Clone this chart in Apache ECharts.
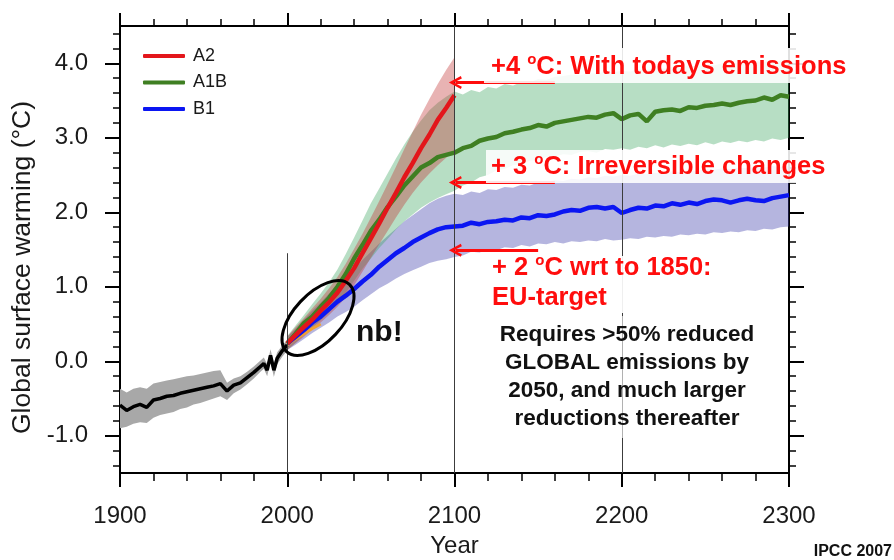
<!DOCTYPE html>
<html>
<head>
<meta charset="utf-8">
<script src="https://cdn.jsdelivr.net/npm/echarts@6/dist/echarts.min.js"></script>
<style>
  html, body { margin: 0; padding: 0; background: #fff; }
  #main { width: 894px; height: 560px; }
</style>
</head>
<body>
<div id="main"></div>
<script>
// historical run 1900-2000
const histYears = [1900, 1904, 1908, 1912, 1916, 1920, 1924, 1928, 1932, 1936, 1940, 1944, 1948, 1952, 1956, 1960, 1964, 1968, 1972, 1976, 1980, 1984, 1986, 1988, 1990, 1992, 1994, 1997, 2000]
const histMean = [-0.59, -0.66, -0.61, -0.58, -0.62, -0.52, -0.50, -0.47, -0.46, -0.43, -0.41, -0.39, -0.37, -0.35, -0.33, -0.30, -0.40, -0.32, -0.29, -0.22, -0.15, -0.07, -0.03, -0.12, 0.08, -0.12, 0.04, 0.14, 0.22]
const histLow = [-0.90, -0.88, -0.84, -0.82, -0.83, -0.76, -0.72, -0.70, -0.68, -0.64, -0.62, -0.58, -0.56, -0.53, -0.50, -0.47, -0.52, -0.43, -0.38, -0.31, -0.23, -0.14, -0.10, -0.20, 0.00, -0.21, -0.04, 0.06, 0.14]
const histHigh = [-0.37, -0.42, -0.37, -0.35, -0.37, -0.30, -0.28, -0.26, -0.24, -0.22, -0.20, -0.19, -0.17, -0.15, -0.13, -0.12, -0.29, -0.23, -0.20, -0.14, -0.07, 0.01, 0.05, -0.04, 0.16, -0.03, 0.12, 0.21, 0.29]

// projections, every 5 years
const a2Years = [2000, 2005, 2010, 2015, 2020, 2025, 2030, 2035, 2040, 2045, 2050, 2055, 2060, 2065, 2070, 2075, 2080, 2085, 2090, 2095, 2100]
const a2Mean = [0.24, 0.35, 0.46, 0.56, 0.68, 0.79, 0.92, 1.08, 1.25, 1.45, 1.65, 1.85, 2.06, 2.26, 2.47, 2.66, 2.86, 3.04, 3.24, 3.40, 3.57]
const a2Low = [0.15, 0.24, 0.33, 0.43, 0.52, 0.62, 0.73, 0.86, 1.02, 1.20, 1.39, 1.57, 1.75, 1.93, 2.10, 2.26, 2.40, 2.52, 2.63, 2.73, 2.82]
const a2High = [0.33, 0.46, 0.58, 0.71, 0.84, 0.98, 1.13, 1.31, 1.51, 1.71, 1.93, 2.15, 2.38, 2.61, 2.85, 3.08, 3.31, 3.52, 3.72, 3.91, 4.08]

const projYears = [2000, 2005, 2010, 2015, 2020, 2025, 2030, 2035, 2040, 2045, 2050, 2055, 2060, 2065, 2070, 2075, 2080, 2085, 2090, 2095,
  2100, 2105, 2110, 2115, 2120, 2125, 2130, 2135, 2140, 2145, 2150, 2155, 2160, 2165, 2170, 2175, 2180, 2185, 2190, 2195,
  2200, 2205, 2210, 2215, 2220, 2225, 2230, 2235, 2240, 2245, 2250, 2255, 2260, 2265, 2270, 2275, 2280, 2285, 2290, 2295, 2300]
const a1bMean = [0.24, 0.37, 0.51, 0.60, 0.73, 0.85, 1.00, 1.17, 1.38, 1.56, 1.75, 1.90, 2.07, 2.21, 2.36, 2.48, 2.60, 2.66, 2.74, 2.77,
  2.80, 2.86, 2.89, 2.96, 2.99, 3.01, 3.06, 3.08, 3.11, 3.13, 3.17, 3.15, 3.20, 3.22, 3.24, 3.26, 3.28, 3.27, 3.31, 3.33,
  3.25, 3.30, 3.32, 3.22, 3.35, 3.37, 3.38, 3.36, 3.41, 3.40, 3.43, 3.44, 3.46, 3.44, 3.47, 3.49, 3.50, 3.54, 3.51, 3.57, 3.55]
const a1bLow = [0.15, 0.25, 0.35, 0.45, 0.55, 0.65, 0.78, 0.92, 1.08, 1.24, 1.38, 1.52, 1.64, 1.77, 1.88, 1.97, 2.06, 2.13, 2.19, 2.24,
  2.29, 2.36, 2.40, 2.47, 2.50, 2.56, 2.58, 2.63, 2.64, 2.69, 2.70, 2.74, 2.75, 2.78, 2.77, 2.81, 2.82, 2.80, 2.85, 2.84,
  2.86, 2.84, 2.88, 2.86, 2.90, 2.87, 2.91, 2.89, 2.92, 2.90, 2.94, 2.91, 2.95, 2.93, 2.96, 2.94, 2.97, 2.95, 2.99, 2.97, 3.00]
const a1bHigh = [0.34, 0.48, 0.62, 0.77, 0.91, 1.06, 1.23, 1.44, 1.66, 1.89, 2.12, 2.32, 2.52, 2.72, 2.91, 3.08, 3.23, 3.37, 3.47, 3.55,
  3.62, 3.58, 3.64, 3.61, 3.68, 3.66, 3.72, 3.70, 3.75, 3.74, 3.79, 3.78, 3.82, 3.83, 3.85, 3.84, 3.87, 3.86, 3.89, 3.88,
  3.90, 3.89, 3.92, 3.91, 3.94, 3.93, 3.95, 3.94, 3.97, 3.96, 3.98, 3.97, 4.00, 3.99, 4.01, 4.00, 4.03, 4.02, 4.04, 4.03, 4.05]
const b1Mean = [0.24, 0.33, 0.42, 0.52, 0.60, 0.70, 0.80, 0.88, 0.97, 1.07, 1.16, 1.27, 1.36, 1.45, 1.52, 1.60, 1.66, 1.72, 1.77, 1.80,
  1.81, 1.82, 1.86, 1.84, 1.87, 1.88, 1.90, 1.89, 1.93, 1.92, 1.96, 1.95, 1.97, 2.01, 2.03, 2.02, 2.06, 2.07, 2.05, 2.07,
  1.99, 2.03, 2.06, 2.05, 2.09, 2.08, 2.12, 2.10, 2.13, 2.11, 2.15, 2.17, 2.16, 2.13, 2.16, 2.18, 2.16, 2.15, 2.19, 2.21, 2.23]
const b1Low = [0.15, 0.22, 0.30, 0.38, 0.45, 0.52, 0.60, 0.66, 0.73, 0.82, 0.90, 0.98, 1.04, 1.11, 1.17, 1.22, 1.27, 1.32, 1.35, 1.37,
  1.40, 1.42, 1.47, 1.46, 1.50, 1.49, 1.53, 1.52, 1.56, 1.54, 1.58, 1.57, 1.60, 1.58, 1.61, 1.60, 1.62, 1.61, 1.64, 1.62,
  1.63, 1.65, 1.64, 1.67, 1.66, 1.68, 1.67, 1.70, 1.69, 1.71, 1.70, 1.73, 1.72, 1.74, 1.73, 1.76, 1.75, 1.78, 1.77, 1.80, 1.81]
const b1High = [0.33, 0.44, 0.56, 0.68, 0.79, 0.91, 1.02, 1.12, 1.24, 1.36, 1.47, 1.58, 1.68, 1.78, 1.88, 1.96, 2.04, 2.12, 2.18, 2.22,
  2.25, 2.23, 2.28, 2.26, 2.31, 2.30, 2.34, 2.33, 2.37, 2.36, 2.40, 2.41, 2.43, 2.42, 2.45, 2.44, 2.47, 2.46, 2.49, 2.48,
  2.50, 2.49, 2.52, 2.51, 2.53, 2.52, 2.55, 2.54, 2.56, 2.55, 2.58, 2.57, 2.59, 2.58, 2.60, 2.59, 2.61, 2.60, 2.62, 2.61, 2.62]

// constant-composition commitment run (short orange trace)
const commitYears = [2000, 2005, 2010, 2015, 2020]
const commitMean = [0.22, 0.30, 0.37, 0.44, 0.50]

const yMajorTicks = [-1, 0, 1, 2, 3, 4]
const yMinorTicks = [-1.4, -1.2, -0.8, -0.6, -0.4, -0.2, 0.2, 0.4, 0.6, 0.8, 1.2, 1.4, 1.6, 1.8, 2.2, 2.4, 2.6, 2.8, 3.2, 3.4, 3.6, 3.8, 4.2, 4.4]
const refYears = [2000, 2100, 2200]

const RED = '#e3161b'
const GREEN = '#3f7f22'
const BLUE = '#0b16f2'
const NOTE = '#ff0d0d'
const FONT = '"Liberation Sans", Arial, sans-serif'

const zip = (xs, ys) => xs.map((x, i) => [x, ys[i]])

function band(name, years, lo, hi, color) {
  return {
    type: 'custom',
    name: name,
    silent: true,
    data: [[years[0], lo[0]]],
    renderItem: (params, api) => {
      const pts = []
      for (let i = 0; i < years.length; i++) pts.push(api.coord([years[i], hi[i]]))
      for (let i = years.length - 1; i >= 0; i--) pts.push(api.coord([years[i], lo[i]]))
      return { type: 'polygon', shape: { points: pts }, style: { fill: color } }
    }
  }
}

function line(name, years, vals, color, width) {
  return {
    type: 'line',
    name: name,
    data: zip(years, vals),
    showSymbol: false,
    symbol: 'none',
    silent: true,
    lineStyle: { color: color, width: width },
    itemStyle: { color: color },
    z: 3
  }
}

const arrowHead = 'path://M6.5,0 L13,12 L10.6,13 L6.5,5 L2.4,13 L0,12 Z'

function yAxisOf(position, ticks, len, withLine, withLabel) {
  return {
    type: 'value',
    position: position,
    min: -1.5,
    max: 4.5,
    axisLine: { show: withLine, onZero: false, lineStyle: { color: '#000', width: 2 } },
    axisTick: { show: true, customValues: ticks, length: len, lineStyle: { color: '#000', width: withLabel || withLine ? 2 : 1.5 } },
    axisLabel: {
      show: withLabel,
      customValues: ticks,
      margin: 32,
      fontSize: 24,
      color: '#1a1a1a',
      fontFamily: FONT,
      formatter: (v) => v.toFixed(1)
    },
    splitLine: { show: false }
  }
}

const chart = echarts.init(document.getElementById('main'), null, { renderer: 'canvas' })

const yMain = yAxisOf('left', yMajorTicks, 15, true, true)
yMain.name = 'Global surface warming (\u00b0C)'
yMain.nameLocation = 'middle'
yMain.nameGap = 78
yMain.nameTextStyle = { fontSize: 26.5, color: '#1a1a1a', fontFamily: FONT, padding: [0, 36, 0, 0] }

chart.setOption({
  backgroundColor: '#ffffff',
  animation: false,
  grid: { left: 120, right: 105, top: 26, bottom: 87, outerBoundsMode: 'none' },
  legend: {
    left: 138,
    top: 41,
    orient: 'vertical',
    itemWidth: 42,
    itemHeight: 4,
    itemGap: 6.5,
    icon: 'roundRect',
    data: ['A2', 'A1B', 'B1'],
    textStyle: { fontSize: 18, lineHeight: 20, color: '#1a1a1a', fontFamily: FONT, padding: [0, 0, 0, 3] }
  },
  xAxis: [
    {
      type: 'value',
      position: 'bottom',
      min: 1900,
      max: 2300,
      interval: 100,
      name: 'Year',
      nameLocation: 'middle',
      nameGap: 61,
      nameTextStyle: { fontSize: 24, color: '#1a1a1a', fontFamily: FONT },
      axisLine: { show: true, onZero: false, lineStyle: { color: '#000', width: 2 } },
      axisTick: { show: true, length: 14, lineStyle: { color: '#000', width: 2 } },
      minorTick: { show: true, splitNumber: 5, length: 8, lineStyle: { color: '#000', width: 1.5 } },
      axisLabel: { margin: 31, fontSize: 24, color: '#1a1a1a', fontFamily: FONT, formatter: (v) => String(v) },
      splitLine: { show: false }
    },
    {
      type: 'value',
      position: 'top',
      min: 1900,
      max: 2300,
      interval: 100,
      axisLine: { show: true, onZero: false, lineStyle: { color: '#000', width: 2 } },
      axisTick: { show: true, length: 13, lineStyle: { color: '#000', width: 2 } },
      minorTick: { show: true, splitNumber: 5, length: 7, lineStyle: { color: '#000', width: 1.5 } },
      axisLabel: { show: false },
      splitLine: { show: false }
    }
  ],
  yAxis: [
    yMain,
    yAxisOf('left', yMinorTicks, 7, false, false),
    yAxisOf('right', yMajorTicks, 15, true, false),
    yAxisOf('right', yMinorTicks, 7, false, false)
  ],
  series: [
    band('hist band', histYears, histLow, histHigh, '#a8a8a8'),
    band('B1 band', projYears, b1Low, b1High, 'rgba(60,60,170,0.38)'),
    band('A1B band', projYears, a1bLow, a1bHigh, 'rgba(60,165,95,0.37)'),
    band('A2 band', a2Years, a2Low, a2High, 'rgba(195,55,55,0.38)'),
    {
      type: 'line',
      name: 'reference years',
      data: [],
      silent: true,
      markLine: {
        silent: true,
        symbol: ['none', 'none'],
        label: { show: false },
        lineStyle: { color: '#3c3c3c', width: 1, type: 'solid' },
        data: [
          [{ coord: [refYears[0], 1.45] }, { coord: [refYears[0], -1.5] }],
          [{ coord: [refYears[1], 4.5] }, { coord: [refYears[1], -1.5] }],
          [{ coord: [refYears[2], 4.5] }, { coord: [refYears[2], -1.5] }]
        ]
      }
    },
    line('Observed', histYears, histMean, '#000000', 3.5),
    line('commitment', commitYears, commitMean, '#f0a030', 3),
    line('B1', projYears, b1Mean, BLUE, 4.5),
    line('A1B', projYears, a1bMean, GREEN, 4.5),
    line('A2', a2Years, a2Mean, RED, 4.5),
    {
      type: 'line',
      name: 'arrows',
      data: [],
      silent: true,
      z: 150,
      markLine: {
        silent: true,
        symbol: ['none', arrowHead],
        symbolSize: [13, 13],
        label: { show: false },
        lineStyle: { color: NOTE, width: 3, type: 'solid' },
        data: [
          [{ coord: [2160, 3.74] }, { coord: [2100.5, 3.74] }],
          [{ coord: [2160, 2.40] }, { coord: [2100.5, 2.40] }],
          [{ coord: [2150, 1.49] }, { coord: [2100.5, 1.49] }]
        ]
      }
    }
  ],
  graphic: [
    { type: 'rect', z: 100, silent: true, shape: { x: 484, y: 48, width: 380, height: 35 }, style: { fill: 'rgba(255,255,255,0.88)' } },
    { type: 'rect', z: 100, silent: true, shape: { x: 486, y: 150, width: 350, height: 33 }, style: { fill: 'rgba(255,255,255,0.88)' } },
    { type: 'rect', z: 100, silent: true, shape: { x: 486, y: 256, width: 236, height: 57 }, style: { fill: 'rgba(255,255,255,0.92)' } },
    { type: 'rect', z: 100, silent: true, shape: { x: 495, y: 316, width: 265, height: 122 }, style: { fill: 'rgba(255,255,255,0.6)' } },
    {
      type: 'ellipse', z: 120, silent: true,
      x: 318, y: 318, rotation: 0.82,
      shape: { cx: 0, cy: 0, rx: 46, ry: 24 },
      style: { fill: 'none', stroke: '#000', lineWidth: 3 }
    },
    {
      type: 'text', z: 120, silent: true, x: 356, y: 333,
      style: { text: 'nb!', font: 'bold 30px ' + FONT, fill: '#111', verticalAlign: 'middle' }
    },
    {
      type: 'text', z: 120, silent: true, x: 491, y: 67,
      style: {
        text: '+4 {s|o}C: With todays emissions',
        font: 'bold 25.5px ' + FONT, fill: NOTE, verticalAlign: 'middle', lineHeight: 30,
        rich: { s: { fontSize: 15, fontWeight: 'bold', fontFamily: FONT, fill: NOTE, verticalAlign: 'top', lineHeight: 30 } }
      }
    },
    {
      type: 'text', z: 120, silent: true, x: 491, y: 167,
      style: {
        text: '+ 3 {s|o}C: Irreversible changes',
        font: 'bold 25.5px ' + FONT, fill: NOTE, verticalAlign: 'middle', lineHeight: 30,
        rich: { s: { fontSize: 15, fontWeight: 'bold', fontFamily: FONT, fill: NOTE, verticalAlign: 'top', lineHeight: 30 } }
      }
    },
    {
      type: 'text', z: 120, silent: true, x: 492, y: 268,
      style: {
        text: '+ 2 {s|o}C wrt to 1850:',
        font: 'bold 25.5px ' + FONT, fill: NOTE, verticalAlign: 'middle', lineHeight: 30,
        rich: { s: { fontSize: 15, fontWeight: 'bold', fontFamily: FONT, fill: NOTE, verticalAlign: 'top', lineHeight: 30 } }
      }
    },
    {
      type: 'text', z: 120, silent: true, x: 492, y: 298,
      style: { text: 'EU-target', font: 'bold 25.5px ' + FONT, fill: NOTE, verticalAlign: 'middle' }
    },
    {
      type: 'text', z: 120, silent: true, x: 627, y: 377,
      style: {
        text: 'Requires >50% reduced\nGLOBAL emissions by\n2050, and much larger\nreductions thereafter',
        font: 'bold 22.5px ' + FONT, fill: '#111', align: 'center', verticalAlign: 'middle', lineHeight: 28
      }
    },
    {
      type: 'text', z: 120, silent: true, x: 892, y: 552,
      style: { text: 'IPCC 2007', font: 'bold 16px ' + FONT, fill: '#111', align: 'right', verticalAlign: 'middle' }
    }
  ]
})
</script>
</body>
</html>
